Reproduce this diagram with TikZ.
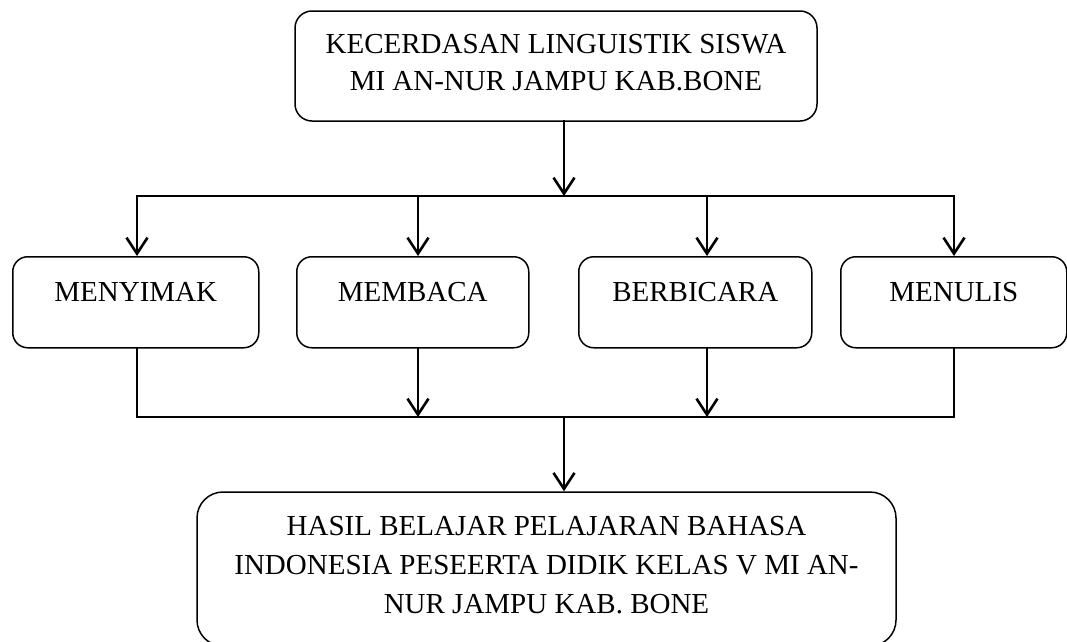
\documentclass[tikz,border=0pt]{standalone}
\usepackage{fontspec}
\setmainfont{Liberation Serif}
\usetikzlibrary{arrows.meta}
\newcommand{\lowstrut}[1]{\rule[-#1]{0pt}{#1}}
\begin{document}
\begin{tikzpicture}[x=1pt,y=-1pt,
  box/.style={draw, line width=1.5pt, rounded corners=15pt, inner sep=0pt, font=\fontsize{29}{38}\selectfont},
  skillbox/.style={box, anchor=north west, text height=45pt, text depth=46pt},
  conn/.style={line width=2.6pt, line cap=rect},
  arr/.style={conn, -{Straight Barb[length=16pt,width=21pt]}},
]
\useasboundingbox (0,0) rectangle (1067,641);

\node[box, rounded corners=17pt, align=center, minimum width=522pt, minimum height=110pt,
      font=\fontsize{29}{37.7}\selectfont] (top) at (556,66)
      {KECERDASAN LINGUISTIK SISWA\\MI AN-NUR JAMPU KAB.BONE\lowstrut{7.5pt}};

\node[skillbox, minimum width=246pt] (menyimak) at (12,256) {MENYIMAK};
\node[skillbox, minimum width=232pt] (membaca) at (296,256) {MEMBACA};
\node[skillbox, minimum width=233pt] (berbicara) at (578,256) {BERBICARA};
\node[skillbox, minimum width=226pt] (menulis) at (840,256) {MENULIS};

\node[box, rounded corners=26pt, align=center, minimum width=699pt, minimum height=154pt,
      font=\fontsize{29}{39}\selectfont] (hasil) at (546.5,569)
      {HASIL BELAJAR PELAJARAN BAHASA\\INDONESIA PESEERTA DIDIK KELAS V MI AN-\\NUR JAMPU KAB. BONE\lowstrut{9pt}};

\coordinate (split) at (564,196);
\coordinate (splitL) at (137,196);
\coordinate (splitR) at (954,196);
\coordinate (joinL) at (137,417);
\coordinate (joinR) at (954,417);
\coordinate (merge) at (564,417);
\coordinate (c2) at (418,0);
\coordinate (c3) at (707,0);

\draw[arr] (top.south -| split) -- (split);
\draw[arr] (splitR) -- (splitL) -- (menyimak.north -| splitL);
\draw[arr] (splitR) -- (menulis.north -| splitR);
\draw[arr] (splitL -| c2) -- (membaca.north -| c2);
\draw[arr] (splitL -| c3) -- (berbicara.north -| c3);

\draw[conn] (menyimak.south -| joinL) -- (joinL) -- (joinR) -- (menulis.south -| joinR);
\draw[arr] (membaca.south -| c2) -- (joinL -| c2);
\draw[arr] (berbicara.south -| c3) -- (joinL -| c3);
\draw[arr] (merge) -- (hasil.north -| merge);
\end{tikzpicture}
\end{document}
